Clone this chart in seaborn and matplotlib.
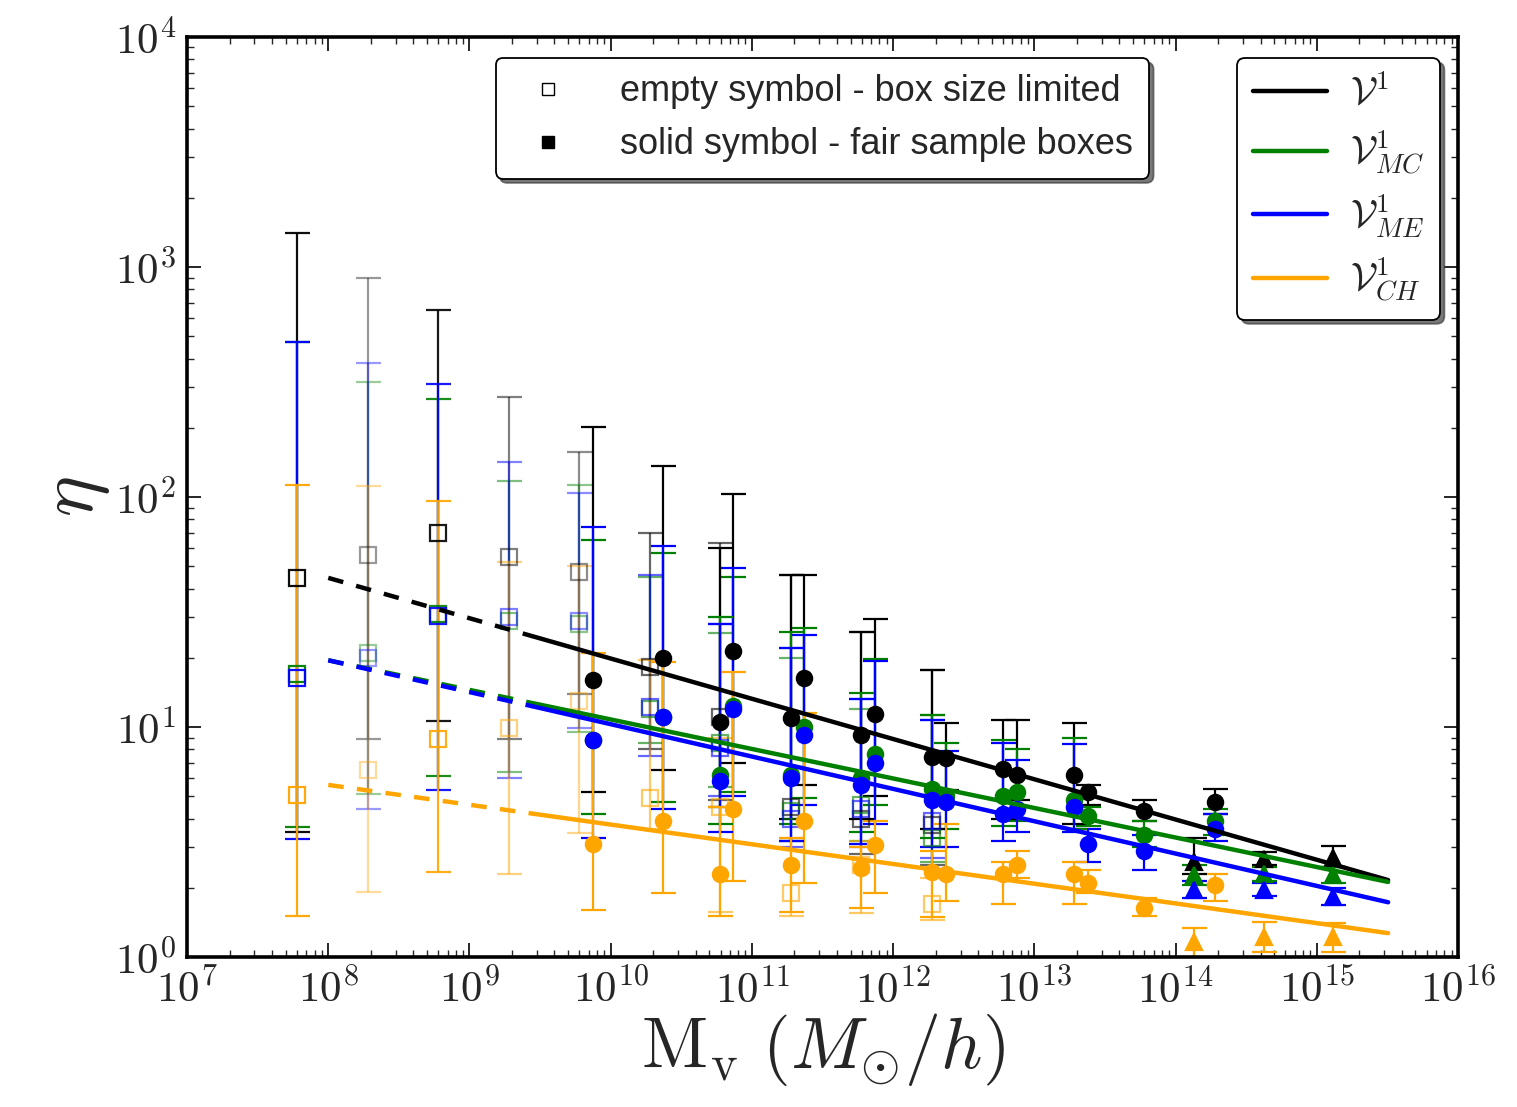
import numpy as np
import pandas as pd
import matplotlib
matplotlib.use("Agg")
import matplotlib.pyplot as plt
import seaborn as sns
from matplotlib.lines import Line2D
from matplotlib.ticker import LogLocator, NullFormatter

# ---------------- data ----------------
colors = ["black", "green", "blue", "orange"]
est_labels = [r"$\mathcal{V}^{1}$", r"$\mathcal{V}^{1}_{MC}$",
              r"$\mathcal{V}^{1}_{ME}$", r"$\mathcal{V}^{1}_{CH}$"]

# box-size limited runs (empty squares)
empty_mass = [6.0e7, 1.9e8, 6.0e8, 1.9e9, 6.0e9, 1.9e10, 5.9e10, 1.9e11, 5.9e11, 1.9e12]
empty_v1 = [44.5, 56, 70, 55, 47, 18.2, 11, 4.5, 4.0, 3.75]
empty_v1_lo = [3.5, 8.9, 10.6, 8.9, 13.9, 8.0, 4.8, 3.2, 2.8, 2.5]
empty_v1_hi = [1406, 896, 650, 272, 157, 70, 63, 46, 26, 17.7]
empty_mc = [17, 21, 31, 29, 28, 12, 8.5, 4.3, 4.6, 3.3]
empty_mc_lo = [3.67, 5.1, 6.1, 6.4, 9.5, 8.5, 5.5, 3.2, 3.2, 2.6]
empty_mc_hi = [472, 316, 267, 117, 113, 45, 25.6, 20, 12, 11.3]
empty_me = [16.3, 20, 30.4, 30, 29, 12.2, 8.1, 4.0, 4.4, 3.9]
empty_me_lo = [3.26, 4.4, 5.3, 6.0, 9.9, 7.5, 5.0, 3.0, 3.0, 2.7]
empty_me_hi = [472, 383, 310, 142, 104, 45.8, 28, 22, 13.2, 10.7]
empty_ch = [5.06, 6.5, 8.9, 9.9, 13, 4.9, 4.5, 1.9, 2.5, 1.7]
empty_ch_lo = [1.5, 1.92, 2.34, 2.3, 3.46, 3.6, 1.57, 1.5, 1.55, 1.45]
empty_ch_hi = [113, 112, 96, 52, 50, 19.6, 9, 3.3, 3.2, 2.2]

# fair sample boxes, set A (solid circles)
fairA_mass = [7.5e9, 2.35e10, 7.4e10, 2.35e11, 7.4e11, 2.35e12, 7.5e12, 2.4e13]
fairA_v1 = [16, 20, 21.5, 16.3, 11.4, 7.3, 6.2, 5.2]
fairA_v1_lo = [5.2, 6.5, 7.0, 5.6, 5.0, 5.3, 4.8, 4.6]
fairA_v1_hi = [201, 136, 103, 46, 29.5, 10.4, 10.7, 5.6]
fairA_mc = [8.8, 11, 12.3, 10, 7.6, 5.0, 5.2, 4.1]
fairA_mc_lo = [4.2, 4.7, 5.2, 4.9, 4.6, 3.6, 3.9, 3.7]
fairA_mc_hi = [65, 57, 45, 27, 19.8, 8.5, 8.0, 4.5]
fairA_me = [8.8, 11, 12, 9.2, 7.0, 4.7, 4.4, 3.1]
fairA_me_lo = [3.3, 4.4, 5.0, 4.6, 3.8, 3.0, 3.5, 2.6]
fairA_me_hi = [74, 61, 49, 25, 19.4, 7.9, 7.2, 3.6]
fairA_ch = [3.1, 3.9, 4.4, 3.9, 3.07, 2.3, 2.5, 2.1]
fairA_ch_lo = [1.6, 1.9, 2.14, 2.1, 1.9, 1.75, 2.2, 1.9]
fairA_ch_hi = [21, 19.2, 17.3, 11.5, 3.9, 3.8, 2.9, 2.4]

# fair sample boxes, set B (solid circles)
fairB_mass = [5.9e10, 1.9e11, 5.9e11, 1.9e12, 6.0e12, 1.9e13, 6.0e13, 1.9e14]
fairB_v1 = [10.5, 10.9, 9.2, 7.4, 6.6, 6.2, 4.3, 4.7]
fairB_v1_lo = [4.5, 4.0, 4.0, 3.6, 4.0, 3.8, 3.9, 4.2]
fairB_v1_hi = [60, 46, 26, 17.7, 10.7, 10.4, 4.8, 5.4]
fairB_mc = [6.2, 6.2, 6.0, 5.4, 5.0, 4.8, 3.4, 3.9]
fairB_mc_lo = [3.8, 3.8, 3.5, 3.3, 3.7, 3.6, 3.0, 3.4]
fairB_mc_hi = [30, 26, 14, 11.3, 8.8, 9.0, 3.9, 4.4]
fairB_me = [5.8, 6.0, 5.6, 4.8, 4.2, 4.5, 2.9, 3.6]
fairB_me_lo = [3.5, 3.2, 3.1, 3.0, 3.2, 3.5, 2.4, 3.2]
fairB_me_hi = [28, 22, 13.2, 10.7, 8.5, 8.4, 3.4, 4.2]
fairB_ch = [2.3, 2.5, 2.44, 2.34, 2.3, 2.3, 1.63, 2.06]
fairB_ch_lo = [1.5, 1.57, 1.63, 1.49, 1.7, 1.7, 1.5, 1.75]
fairB_ch_hi = [4.5, 3.3, 3.0, 2.9, 2.6, 2.6, 1.8, 2.3]

# fair sample boxes, set C (solid triangles)
fairC_mass = [1.35e14, 4.2e14, 1.3e15]
fairC_v1 = [2.59, 2.67, 2.69]
fairC_v1_lo = [2.3, 2.5, 2.45]
fairC_v1_hi = [3.3, 2.85, 3.04]
fairC_mc = [2.27, 2.3, 2.27]
fairC_mc_lo = [2.05, 2.15, 2.1]
fairC_mc_hi = [2.5, 2.45, 2.45]
fairC_me = [1.96, 1.96, 1.82]
fairC_me_lo = [1.8, 1.85, 1.68]
fairC_me_hi = [2.15, 2.1, 2.0]
fairC_ch = [1.16, 1.22, 1.22]
fairC_ch_lo = [1.0, 1.05, 1.05]
fairC_ch_hi = [1.34, 1.42, 1.41]

# power-law fits (values at the segment ends; dashed below the 2nd mass)
fit_mass = [1e8, 2.8e9, 3.2e15]
fit_v1 = [44.5, 24.8, 2.16]
fit_mc = [19.5, 12.7, 2.12]
fit_me = [19.5, 12.3, 1.73]
fit_ch = [5.6, 4.2, 1.27]

# ---------------- style ----------------
empty_alpha = [0.95, 0.4, 0.9, 0.5, 0.45, 0.6, 0.6, 0.6, 0.6, 0.6]

sns.set_style("white")
plt.rcParams.update({
    "font.family": "serif",
    "font.serif": ["cmr10", "DejaVu Serif"],
    "mathtext.fontset": "cm",
    "axes.formatter.use_mathtext": True,
    "axes.unicode_minus": False,
})

fig = plt.figure(figsize=(15.17, 11.07), dpi=100)
ax = fig.add_axes([0.1233, 0.1355, 0.8378, 0.8311])
ax.set_xscale("log")
ax.set_yscale("log")


def draw(mass, vals, lo, hi, color, marker, filled, alpha, ms):
    v = np.asarray(vals, float)
    yerr = [v - np.asarray(lo, float), np.asarray(hi, float) - v]
    ax.errorbar(mass, v, yerr=yerr, fmt=marker, color=color, mec=color,
                mfc=color if filled else "none", mew=1.6, ms=ms,
                capsize=9, elinewidth=1.6, capthick=1.6, alpha=alpha, zorder=2)


empty_sets = [(empty_v1, empty_v1_lo, empty_v1_hi), (empty_mc, empty_mc_lo, empty_mc_hi),
              (empty_me, empty_me_lo, empty_me_hi), (empty_ch, empty_ch_lo, empty_ch_hi)]
fairA_sets = [(fairA_v1, fairA_v1_lo, fairA_v1_hi), (fairA_mc, fairA_mc_lo, fairA_mc_hi),
              (fairA_me, fairA_me_lo, fairA_me_hi), (fairA_ch, fairA_ch_lo, fairA_ch_hi)]
fairB_sets = [(fairB_v1, fairB_v1_lo, fairB_v1_hi), (fairB_mc, fairB_mc_lo, fairB_mc_hi),
              (fairB_me, fairB_me_lo, fairB_me_hi), (fairB_ch, fairB_ch_lo, fairB_ch_hi)]
fairC_sets = [(fairC_v1, fairC_v1_lo, fairC_v1_hi), (fairC_mc, fairC_mc_lo, fairC_mc_hi),
              (fairC_me, fairC_me_lo, fairC_me_hi), (fairC_ch, fairC_ch_lo, fairC_ch_hi)]

for c, (v, lo, hi) in zip(colors, empty_sets):
    for i in range(len(empty_mass)):
        draw([empty_mass[i]], [v[i]], [lo[i]], [hi[i]], c, "s", False, empty_alpha[i], 12)
for c, s in zip(colors, fairA_sets):
    draw(fairA_mass, *s, c, "o", True, 1.0, 11)
for c, s in zip(colors, fairB_sets):
    draw(fairB_mass, *s, c, "o", True, 1.0, 11)
for c, s in zip(colors, fairC_sets):
    draw(fairC_mass, *s, c, "^", True, 1.0, 11)

# fit lines via seaborn
for c, vals in zip(colors, [fit_v1, fit_mc, fit_me, fit_ch]):
    df = pd.DataFrame({"M": fit_mass, "eta": vals})
    sns.lineplot(data=df.iloc[:2], x="M", y="eta", ax=ax, color=c, lw=3.2,
                 linestyle=(0, (3.5, 3)), zorder=3)
    sns.lineplot(data=df.iloc[1:], x="M", y="eta", ax=ax, color=c, lw=3.2, zorder=3)

ax.set_xlim(1e7, 1e16)
ax.set_ylim(1e0, 1e4)

ax.xaxis.set_major_locator(LogLocator(base=10, numticks=20))
ax.xaxis.set_minor_locator(LogLocator(base=10, subs=np.arange(2, 10), numticks=100))
ax.xaxis.set_minor_formatter(NullFormatter())
ax.yaxis.set_major_locator(LogLocator(base=10, numticks=20))
ax.yaxis.set_minor_locator(LogLocator(base=10, subs=np.arange(2, 10), numticks=100))
ax.yaxis.set_minor_formatter(NullFormatter())

ax.tick_params(which="both", direction="in", top=True, right=True, bottom=True, left=True)
ax.tick_params(which="major", length=10, width=1.4, labelsize=31)
ax.tick_params(axis="x", which="major", pad=8)
ax.tick_params(axis="y", which="major", pad=8)
ax.tick_params(which="minor", length=5, width=1.0)
for sp in ax.spines.values():
    sp.set_linewidth(2.6)
    sp.set_color("black")

ax.set_xlabel(r"$\mathrm{M_v}\ \left(M_{\odot}/h\right)$", fontsize=52, labelpad=0)
ax.set_ylabel(r"$\eta$", fontsize=56, labelpad=2)

# legends
shadow = {"ox": 3, "oy": -3, "color": "0.25", "alpha": 0.7}
h1 = [Line2D([], [], marker="s", ls="none", mfc="white", mec="black", ms=9, mew=1.0),
      Line2D([], [], marker="s", ls="none", mfc="black", mec="black", ms=9)]
leg1 = ax.legend(h1, ["empty symbol - box size limited", "solid symbol - fair sample boxes"],
                 loc="upper center", bbox_to_anchor=(0.5, 0.977), borderaxespad=0,
                 prop={"family": "Liberation Sans", "size": 26}, shadow=shadow,
                 fancybox=True, framealpha=1, edgecolor="black",
                 handletextpad=1.0, labelspacing=0.5, borderpad=0.45)
leg1.get_frame().set_linewidth(1.3)
ax.add_artist(leg1)

h2 = [Line2D([], [], color=c, lw=3.2) for c in colors]
leg2 = ax.legend(h2, est_labels, loc="upper right", bbox_to_anchor=(0.986, 0.977),
                 borderaxespad=0, prop={"size": 28}, shadow=shadow, fancybox=True,
                 framealpha=1, edgecolor="black", handlelength=1.9, labelspacing=0.4,
                 handletextpad=0.6)
leg2.get_frame().set_linewidth(1.3)

fig.savefig("out.png", dpi=100)
